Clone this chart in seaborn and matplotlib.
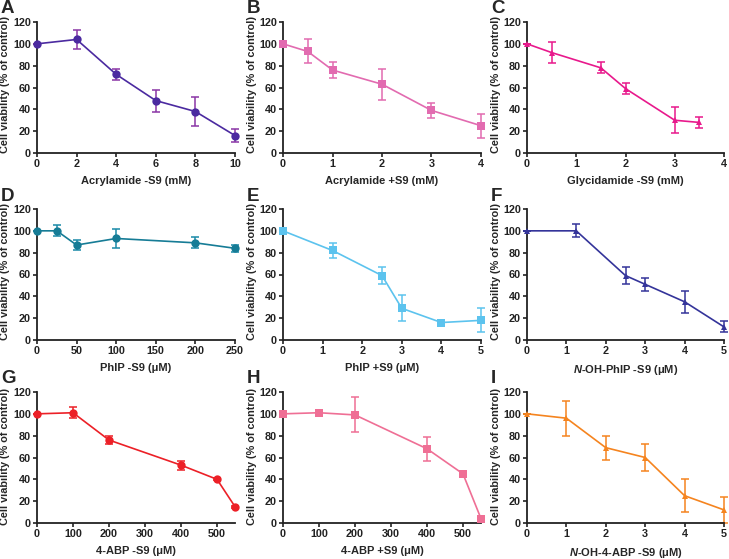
import seaborn as sns
import matplotlib.pyplot as plt
import pandas as pd

sns.set_style("ticks")
plt.rcParams['font.family'] = ['Liberation Sans', 'DejaVu Sans']
plt.rcParams['font.weight'] = 'bold'
plt.rcParams['mathtext.fontset'] = 'custom'
plt.rcParams['mathtext.it'] = 'Liberation Sans:italic:bold'
plt.rcParams['mathtext.rm'] = 'Liberation Sans:bold'

# data
letters = ['A', 'B', 'C', 'D', 'E', 'F', 'G', 'H', 'I']
xlabels = ['Acrylamide -S9 (mM)', 'Acrylamide +S9 (mM)', 'Glycidamide -S9 (mM)',
           'PhIP -S9 (μM)', 'PhIP +S9 (μM)', r'$\mathit{N}$-OH-PhIP -S9 (μM)',
           '4-ABP -S9 (μM)', '4-ABP +S9 (μM)', r'$\mathit{N}$-OH-4-ABP -S9 (μM)']

x_A = [0, 2, 4, 6, 8, 10]
y_A = [100, 104, 72, 48, 38, 16]
e_A = [0, 9, 5, 10, 13, 6]

x_B = [0, 0.5, 1, 2, 3, 4]
y_B = [100, 93, 76, 63, 39, 25]
e_B = [0, 11, 7, 14, 7, 11]

x_C = [0, 0.5, 1.5, 2, 3, 3.5]
y_C = [100, 92, 78, 59, 30, 28]
e_C = [0, 10, 5, 5, 12, 5]

x_D = [0, 25, 50, 100, 200, 250]
y_D = [100, 100, 87, 93, 89, 84]
e_D = [0, 5, 5, 9, 5, 3]

x_E = [0, 1.25, 2.5, 3, 4, 5]
y_E = [100, 82, 59, 29, 16, 18]
e_E = [0, 7, 8, 12, 1, 11]

x_F = [0, 1.25, 2.5, 3, 4, 5]
y_F = [100, 100, 59, 51, 35, 12]
e_F = [0, 6, 8, 6, 10, 5]

x_G = [0, 100, 200, 400, 500, 550]
y_G = [100, 101, 76, 53, 40, 15]
e_G = [0, 5, 4, 4, 1, 1]

x_H = [0, 100, 200, 400, 500, 550]
y_H = [100, 101, 99, 68, 45, 4]
e_H = [0, 1, 16, 11, 1, 1]

x_I = [0, 1, 2, 3, 4, 5]
y_I = [100, 96, 69, 60, 25, 12]
e_I = [0, 16, 11, 12, 15, 12]

xs = [x_A, x_B, x_C, x_D, x_E, x_F, x_G, x_H, x_I]
ys = [y_A, y_B, y_C, y_D, y_E, y_F, y_G, y_H, y_I]
es = [e_A, e_B, e_C, e_D, e_E, e_F, e_G, e_H, e_I]
xmax = [10, 4, 4, 250, 5, 5, 550, 550, 5]
xticks = [[0, 2, 4, 6, 8, 10], [0, 1, 2, 3, 4], [0, 1, 2, 3, 4],
          [0, 50, 100, 150, 200, 250], [0, 1, 2, 3, 4, 5], [0, 1, 2, 3, 4, 5],
          [0, 100, 200, 300, 400, 500], [0, 100, 200, 300, 400, 500], [0, 1, 2, 3, 4, 5]]
markers = ['o', 's', '^', 'o', 's', '^', 'o', 's', '^']
line_colors = ['#4b2aa0', '#e26bb0', '#e8198c', '#167c96', '#5cc3ee', '#34349a',
               '#ec2027', '#ef6f95', '#f5841f']
err_colors = ['#8a36a6', '#e26bb0', '#e8198c', '#1a8aa8', '#5cc3ee', '#34349a',
              '#ec2027', '#ef6f95', '#f5841f']

fig = plt.figure(figsize=(7.29, 5.59), dpi=100)
W, H = 729, 559
cols = [(37, 235), (283, 481), (527, 724)]
rows = [(22, 153), (209, 340), (392, 523)]
letter_y = [0, 188, 370]
label_y = [0.52, 0.52, 0.505]

for i in range(9):
    r, c = divmod(i, 3)
    x0, x1 = cols[c]
    y0, y1 = rows[r]
    ax = fig.add_axes([x0 / W, 1 - y1 / H, (x1 - x0) / W, (y1 - y0) / H])
    df = pd.DataFrame({'x': xs[i], 'y': ys[i]})
    ax.errorbar(df['x'], df['y'], yerr=es[i], fmt='none', ecolor=err_colors[i],
                elinewidth=1.1, capsize=3, capthick=1.1, clip_on=False, zorder=2)
    sns.lineplot(data=df, x='x', y='y', ax=ax, color=line_colors[i], marker=markers[i],
                 markersize=6 if markers[i] != '^' else 5, markeredgewidth=0,
                 linewidth=1.2, clip_on=False, zorder=3)
    ax.set_xlim(0, xmax[i])
    ax.set_ylim(0, 120)
    ax.set_xticks(xticks[i])
    ax.set_yticks(range(0, 121, 20))
    sns.despine(ax=ax)
    for s in ['left', 'bottom']:
        ax.spines[s].set_linewidth(1.3)
        ax.spines[s].set_color('#222222')
    ax.tick_params(length=3, width=1.2, labelsize=7.8, pad=1.5, colors='#222222')
    for lab in ax.get_xticklabels() + ax.get_yticklabels():
        lab.set_fontweight('bold')
    ax.set_xlabel(xlabels[i], fontsize=8, fontweight='bold', labelpad=5)
    ax.set_ylabel('Cell viability (% of control)', fontsize=7.8, fontweight='bold')
    ax.yaxis.set_label_coords(-0.135 if c == 0 else -0.13, label_y[r])
    fig.text((x0 - 36) / W, 1 - letter_y[r] / H, letters[i], fontsize=13.5,
             fontweight='bold', va='top', ha='left')

plt.savefig('out.png', dpi=100)
